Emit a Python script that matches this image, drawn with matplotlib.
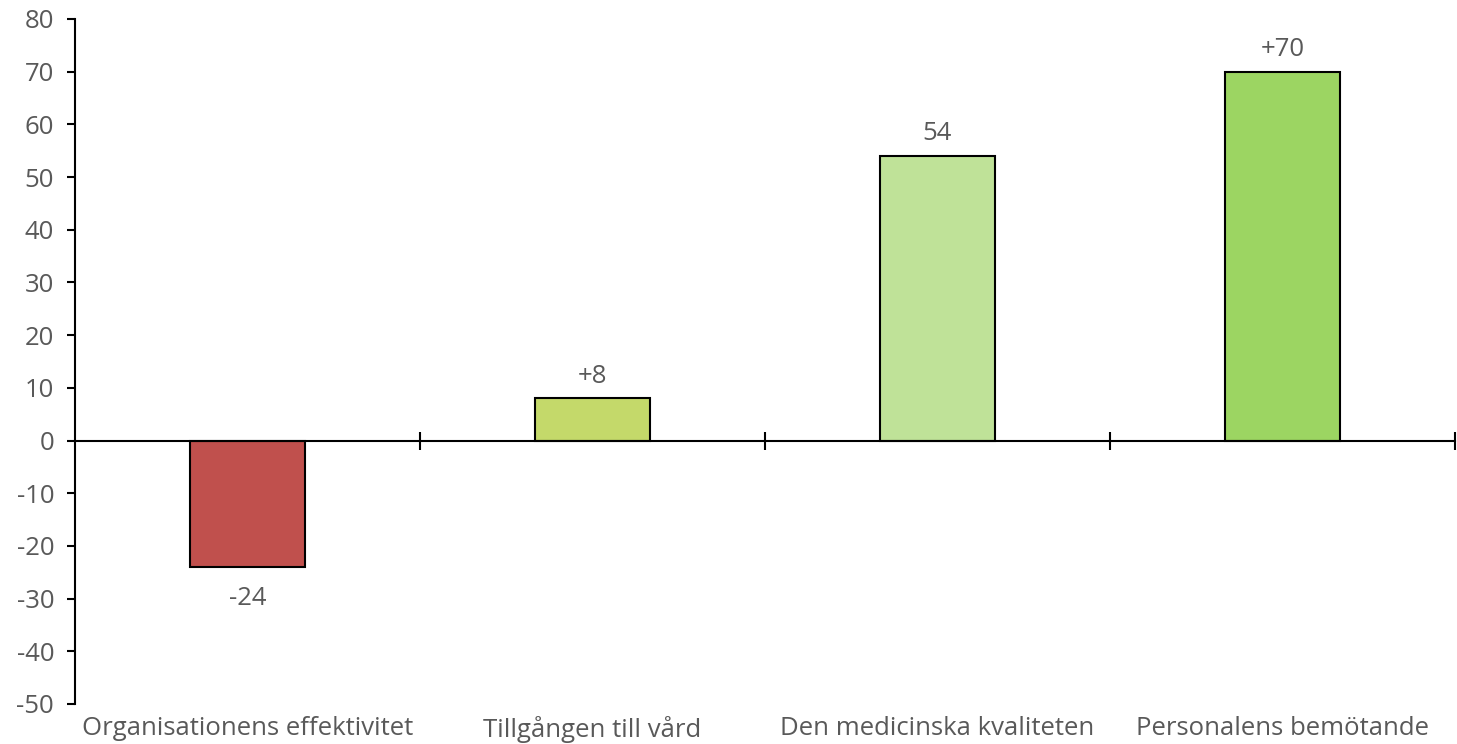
import matplotlib.pyplot as plt
from matplotlib.ticker import MultipleLocator

plt.rcParams['font.family'] = ['Open Sans', 'DejaVu Sans']
plt.rcParams['axes.unicode_minus'] = False

categories = ['Organisationens effektivitet', 'Tillgången till vård',
              'Den medicinska kvaliteten', 'Personalens bemötande']
values = [-24, 8, 54, 70]
value_labels = ['-24', '+8', '54', '+70']
colors = ['#C0504D', '#C4D96A', '#BFE298', '#9CD562']

text_color = '#595959'
fs = 18.5

fig = plt.figure(figsize=(14.57, 7.44), dpi=100)
ax = fig.add_axes([0.0515, 0.0538, 0.947, 0.9207])

x = range(len(categories))
bars = ax.bar(x, values, width=0.333, color=colors, edgecolor='black', linewidth=1.5, zorder=2)

for xi, v, lab in zip(x, values, value_labels):
    if v >= 0:
        ax.annotate(lab, (xi, v), xytext=(0, 7), textcoords='offset points',
                    ha='center', va='bottom', fontsize=fs, color=text_color)
    else:
        ax.annotate(lab, (xi, v), xytext=(0, -14), textcoords='offset points',
                    ha='center', va='top', fontsize=fs, color=text_color)

# category names sit below the plot, not at the zero line
for xi, name in zip(x, categories):
    ax.annotate(name, (xi, 0), xycoords=('data', 'axes fraction'),
                xytext=(0, -8.5), textcoords='offset points',
                ha='center', va='top', fontsize=fs, color=text_color)

ax.set_xlim(-0.5, 3.5)
ax.set_ylim(-50, 80)
ax.yaxis.set_major_locator(MultipleLocator(10))
ax.set_xticks([0.5, 1.5, 2.5, 3.5])
ax.set_xticklabels([])

ax.spines['top'].set_visible(False)
ax.spines['right'].set_visible(False)
ax.spines['bottom'].set_position(('data', 0))
ax.spines['bottom'].set_linewidth(1.5)
ax.spines['left'].set_linewidth(1.5)
ax.spines['bottom'].set_zorder(3)

ax.tick_params(axis='y', direction='out', length=6, width=1.5, labelsize=fs,
               labelcolor=text_color, pad=9)
ax.tick_params(axis='x', direction='inout', length=13, width=1.5)

fig.savefig('out.png', dpi=100)
